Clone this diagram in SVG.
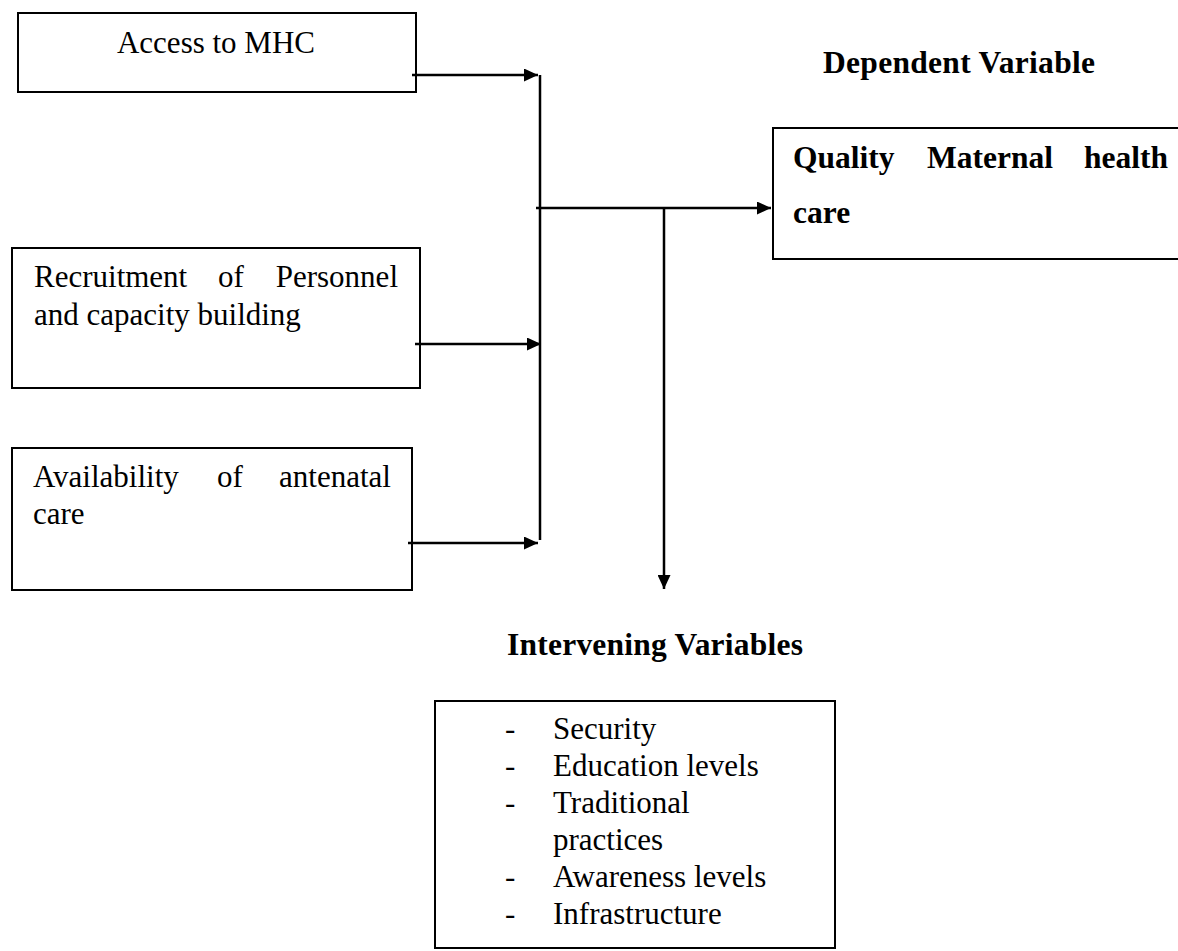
<svg xmlns="http://www.w3.org/2000/svg" width="1178" height="951" viewBox="0 0 1178 951">
<style>
  .box { fill: #ffffff; stroke: #000000; stroke-width: 2; }
  .t { font-family: "Liberation Serif", "Times New Roman", serif; font-size: 31px; fill: #000000; }
  .b { font-weight: bold; font-size: 31.5px; }
  .c { fill: none; stroke: #000000; stroke-width: 2.5; }
</style>
<defs>
  <marker id="ah" viewBox="0 0 14 13" refX="14" refY="6.5" markerWidth="14" markerHeight="13" markerUnits="userSpaceOnUse" orient="auto">
    <path d="M0,0 L14,6.5 L0,13 Z" fill="#000000"/>
  </marker>
</defs>
<rect width="1178" height="951" fill="#ffffff"/>

<g id="node-access">
  <rect class="box" x="18" y="13" width="398" height="79"/>
  <text class="t" x="216" y="53" text-anchor="middle">Access to MHC</text>
</g>

<g id="node-recruitment">
  <rect class="box" x="12" y="248" width="408" height="140"/>
  <text class="t" y="287"><tspan x="34">Recruitment</tspan><tspan x="218">of</tspan><tspan x="398" text-anchor="end">Personnel</tspan></text>
  <text class="t" x="34" y="325">and capacity building</text>
</g>

<g id="node-availability">
  <rect class="box" x="12" y="448" width="400" height="142"/>
  <text class="t" y="487"><tspan x="33">Availability</tspan><tspan x="217">of</tspan><tspan x="391" text-anchor="end">antenatal</tspan></text>
  <text class="t" x="33" y="524">care</text>
</g>

<g id="label-dependent">
  <text class="t b" x="823" y="73" textLength="272">Dependent Variable</text>
</g>

<g id="node-quality">
  <rect class="box" x="773" y="128" width="420" height="131"/>
  <text class="t b" y="168"><tspan x="793">Quality</tspan><tspan x="927">Maternal</tspan><tspan x="1168" text-anchor="end">health</tspan></text>
  <text class="t b" x="793" y="223">care</text>
</g>

<g id="label-intervening">
  <text class="t b" x="507" y="655" textLength="296">Intervening Variables</text>
</g>

<g id="node-intervening">
  <rect class="box" x="435" y="701" width="400" height="247"/>
  <text class="t" x="505" y="739">-</text><text class="t" x="553" y="739">Security</text>
  <text class="t" x="505" y="776">-</text><text class="t" x="553" y="776">Education levels</text>
  <text class="t" x="505" y="813">-</text><text class="t" x="553" y="813">Traditional</text>
  <text class="t" x="553" y="850">practices</text>
  <text class="t" x="505" y="887">-</text><text class="t" x="553" y="887">Awareness levels</text>
  <text class="t" x="505" y="924">-</text><text class="t" x="553" y="924">Infrastructure</text>
</g>

<g id="connectors">
  <line class="c" x1="412" y1="75" x2="538" y2="75" marker-end="url(#ah)"/>
  <line class="c" x1="540" y1="75" x2="540" y2="540"/>
  <line class="c" x1="415" y1="344" x2="541" y2="344" marker-end="url(#ah)"/>
  <line class="c" x1="408" y1="543" x2="538" y2="543" marker-end="url(#ah)"/>
  <line class="c" x1="536" y1="208" x2="771" y2="208" marker-end="url(#ah)"/>
  <line class="c" x1="664" y1="208" x2="664" y2="589" marker-end="url(#ah)"/>
</g>
</svg>
